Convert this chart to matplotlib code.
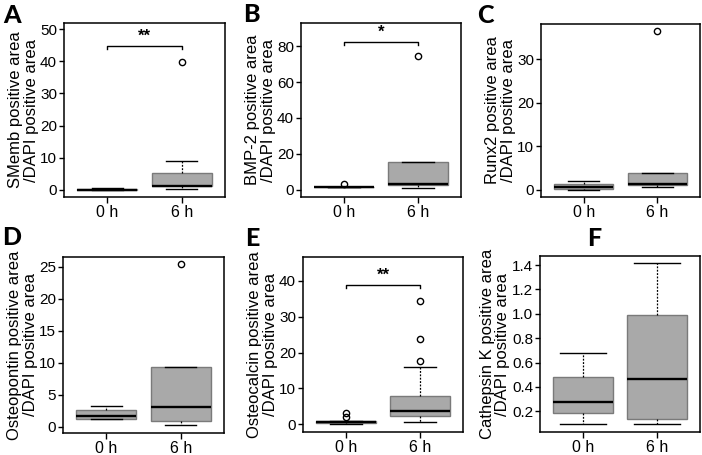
#!/usr/bin/python3
# -*- coding: utf-8 -*-
import matplotlib
matplotlib.use('Agg')
import matplotlib.pyplot as plt

# group labels on the x axis
groups = ['0 h', '6 h']
letters = ['A', 'B', 'C', 'D', 'E', 'F']
markers = ['SMemb', 'BMP-2', 'Runx2', 'Osteopontin', 'Osteocalcin', 'Cathepsin K']

# box stats: whislo, q1, median, q3, whishi
smemb_0h = [0.0, 0.0, 0.1, 0.35, 0.5]
smemb_6h = [0.2, 1.1, 1.35, 5.3, 8.9]
smemb_out = [[], [39.9]]

bmp2_0h = [1.3, 1.4, 1.5, 1.6, 1.7]
bmp2_6h = [1.1, 2.4, 3.1, 15.5, 15.5]
bmp2_out = [[3.4], [74.4]]

runx2_0h = [0.0, 0.15, 0.6, 1.3, 1.9]
runx2_6h = [0.6, 1.0, 1.3, 3.8, 3.8]
runx2_out = [[], [36.4]]

opn_0h = [1.2, 1.2, 1.6, 2.6, 3.2]
opn_6h = [0.27, 0.9, 3.1, 9.3, 9.3]
opn_out = [[], [25.4]]

ocn_0h = [0.0, 0.25, 0.5, 0.85, 1.0]
ocn_6h = [0.56, 2.2, 3.6, 7.8, 16.0]
ocn_out = [[2.0, 3.1], [17.7, 23.7, 34.3]]

ctsk_0h = [0.092, 0.186, 0.28, 0.482, 0.68]
ctsk_6h = [0.092, 0.133, 0.465, 0.993, 1.42]
ctsk_out = [[], []]

# significance: (bracket height, label) or None
signif = [(44.8, '**'), (82.5, '*'), None, None, (38.9, '**'), None]

yticks = [
    [0, 10, 20, 30, 40, 50],
    [0, 20, 40, 60, 80],
    [0, 10, 20, 30],
    [0, 5, 10, 15, 20, 25],
    [0, 10, 20, 30, 40],
    [0.2, 0.4, 0.6, 0.8, 1.0, 1.2, 1.4],
]
ylims = [(-2.2, 51.9), (-4.1, 93.0), (-1.7, 38.1), (-1.0, 26.5), (-2.2, 46.7), (0.03, 1.474)]

# axes boxes in pixels: left, top, right, bottom
W, H = 702, 455
boxes = [
    (64, 23, 225, 197), (301, 23, 461, 197), (541, 24, 700, 197),
    (63, 257, 224, 433), (303, 257, 463, 432), (540, 256, 700, 432),
]
letter_pos = [(3, 4), (243, 3), (477, 4), (2, 226), (245, 227), (587, 227)]
capw = [0.42, 0.42, 0.42, 0.42, 0.42, 0.62]


def main():
    plt.rcParams['font.family'] = ['Liberation Sans', 'DejaVu Sans']
    fig = plt.figure(figsize=(W / 100, H / 100), dpi=100)

    data = [
        (smemb_0h, smemb_6h, smemb_out),
        (bmp2_0h, bmp2_6h, bmp2_out),
        (runx2_0h, runx2_6h, runx2_out),
        (opn_0h, opn_6h, opn_out),
        (ocn_0h, ocn_6h, ocn_out),
        (ctsk_0h, ctsk_6h, ctsk_out),
    ]

    axes = []
    for i, (s0, s6, outs) in enumerate(data):
        l, t, r, b = boxes[i]
        ax = fig.add_axes([l / W, (H - b) / H, (r - l) / W, (b - t) / H])
        axes.append(ax)
        stats = []
        for s, o, name in zip([s0, s6], outs, groups):
            stats.append(dict(whislo=s[0], q1=s[1], med=s[2], q3=s[3],
                              whishi=s[4], fliers=o, label=name))
        ax.bxp(stats, positions=[1, 2], widths=0.8, patch_artist=True,
               capwidths=capw[i],
               boxprops=dict(facecolor='#a9a9a9', edgecolor='#7a7a7a', linewidth=1.0),
               medianprops=dict(color='black', linewidth=1.7),
               whiskerprops=dict(color='black', linewidth=0.9, linestyle=(0, (1.5, 1.2))),
               capprops=dict(color='black', linewidth=1.0),
               flierprops=dict(marker='o', markersize=4.5, markerfacecolor='none',
                               markeredgecolor='black', markeredgewidth=1.0))
        ax.set_xlim(0.42, 2.58)
        ax.set_ylim(*ylims[i])
        ax.set_yticks(yticks[i])
        if i == 5:
            ax.set_yticklabels(['%.1f' % v for v in yticks[i]])
        ax.set_xticks([1, 2])
        ax.set_xticklabels(groups)
        ax.tick_params(axis='y', labelsize=11, length=3.5, width=1.0, pad=1.5)
        ax.tick_params(axis='x', labelsize=11.5, length=4, width=1.0, pad=2)
        for sp in ax.spines.values():
            sp.set_linewidth(1.1)

        ax.set_ylabel('%s positive area\n/DAPI positive area' % markers[i],
                      fontsize=12, linespacing=1.05)

        if signif[i] is not None:
            h, txt = signif[i]
            y0, y1 = ylims[i]
            leg = 0.02 * (y1 - y0)
            ax.plot([1, 1, 2, 2], [h - leg, h, h, h - leg], color='black', lw=1.0)
            ax.text(1.5, h + 0.01 * (y1 - y0), txt, ha='center', va='bottom',
                    fontsize=12, fontweight='bold')

        lx, ly = letter_pos[i]
        fig.text(lx / W, 1 - ly / H, letters[i], ha='left', va='top',
                 fontsize=18, fontweight='black', family=['Lato', 'DejaVu Sans'])

    # put each y label right next to its tick labels
    fig.canvas.draw()
    rend = fig.canvas.get_renderer()
    for i, ax in enumerate(axes):
        l, t, r, b = boxes[i]
        x0 = min(lb.get_window_extent(rend).x0 for lb in ax.get_yticklabels())
        ax.yaxis.set_label_coords((x0 - 1.5 - l) / (r - l), 0.5)

    fig.savefig('out.png', dpi=100)


if __name__ == '__main__':
    main()
